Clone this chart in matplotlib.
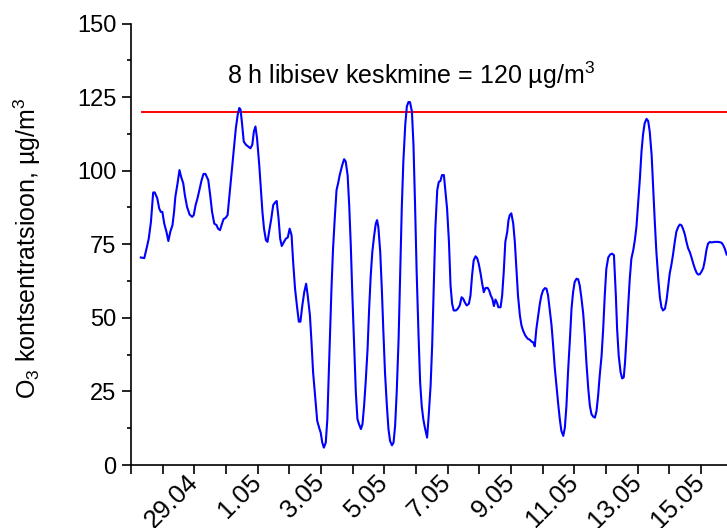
import matplotlib
matplotlib.use("Agg")
import matplotlib.pyplot as plt
from matplotlib.ticker import MultipleLocator
from matplotlib.transforms import ScaledTranslation

plt.rcParams['font.family'] = ['Liberation Sans', 'DejaVu Sans']
plt.rcParams['mathtext.fontset'] = 'custom'
plt.rcParams['mathtext.rm'] = 'Liberation Sans'
plt.rcParams['mathtext.it'] = 'Liberation Sans:italic'

# 8 h moving average O3, x = days since 27.04 00:00
days = [
    0.31, 0.42, 0.49, 0.56, 0.63, 0.70, 0.75, 0.83, 0.89, 0.94, 0.99, 1.05, 1.12, 1.18,
    1.24, 1.31, 1.36, 1.40, 1.47, 1.53, 1.58, 1.65, 1.70, 1.77, 1.85, 1.93, 1.98, 2.04,
    2.10, 2.17, 2.23, 2.29, 2.35, 2.44, 2.50, 2.56, 2.63, 2.70, 2.75, 2.81, 2.86, 2.92,
    2.99, 3.05, 3.11, 3.17, 3.25, 3.31, 3.37, 3.42, 3.46, 3.51, 3.56, 3.63, 3.70, 3.77,
    3.83, 3.88, 3.93, 3.98, 4.05, 4.10, 4.15, 4.20, 4.26, 4.31, 4.36, 4.43, 4.49, 4.55,
    4.60, 4.66, 4.71, 4.76, 4.83, 4.89, 4.95, 5.01, 5.07, 5.12, 5.18, 5.25, 5.30, 5.35,
    5.41, 5.47, 5.53, 5.58, 5.65, 5.70, 5.75, 5.82, 5.88, 5.94, 5.99, 6.04, 6.09, 6.15,
    6.20, 6.27, 6.33, 6.38, 6.44, 6.49, 6.54, 6.59, 6.67, 6.73, 6.78, 6.84, 6.89, 6.94,
    6.99, 7.05, 7.10, 7.15, 7.20, 7.26, 7.31, 7.36, 7.41, 7.47, 7.52, 7.57, 7.62, 7.68,
    7.73, 7.77, 7.81, 7.87, 7.92, 7.97, 8.02, 8.08, 8.13, 8.18, 8.24, 8.29, 8.34, 8.39,
    8.45, 8.50, 8.55, 8.60, 8.66, 8.71, 8.76, 8.81, 8.87, 8.92, 8.97, 9.02, 9.08, 9.13,
    9.18, 9.23, 9.28, 9.35, 9.40, 9.46, 9.51, 9.56, 9.61, 9.67, 9.72, 9.77, 9.82, 9.88,
    9.93, 9.98, 10.04, 10.09, 10.14, 10.19, 10.26, 10.32, 10.38, 10.44, 10.49, 10.54,
    10.60, 10.67, 10.72, 10.77, 10.82, 10.88, 10.93, 10.98, 11.04, 11.09, 11.14, 11.19,
    11.26, 11.31, 11.36, 11.41, 11.46, 11.51, 11.56, 11.60, 11.67, 11.72, 11.77, 11.82,
    11.88, 11.92, 11.96, 12.01, 12.07, 12.12, 12.17, 12.22, 12.28, 12.33, 12.38, 12.44,
    12.49, 12.54, 12.59, 12.65, 12.70, 12.75, 12.80, 12.86, 12.91, 12.96, 13.01, 13.07,
    13.12, 13.17, 13.22, 13.28, 13.33, 13.38, 13.44, 13.49, 13.54, 13.59, 13.65, 13.70,
    13.75, 13.80, 13.86, 13.91, 13.96, 14.01, 14.07, 14.12, 14.17, 14.22, 14.28, 14.33,
    14.38, 14.44, 14.49, 14.54, 14.59, 14.65, 14.70, 14.75, 14.80, 14.86, 14.91, 14.96,
    15.01, 15.07, 15.13, 15.19, 15.25, 15.31, 15.35, 15.40, 15.46, 15.51, 15.56, 15.60,
    15.65, 15.70, 15.75, 15.80, 15.86, 15.91, 15.96, 16.01, 16.07, 16.12, 16.17, 16.22,
    16.28, 16.33, 16.38, 16.44, 16.49, 16.54, 16.59, 16.65, 16.70, 16.75, 16.80, 16.86,
    16.91, 16.96, 17.01, 17.07, 17.12, 17.17, 17.22, 17.28, 17.33, 17.38, 17.43, 17.49,
    17.54, 17.59, 17.65, 17.70, 17.75, 17.80, 17.86, 17.91, 17.96, 18.01, 18.07, 18.12,
    18.17, 18.22, 18.28, 18.33, 18.38, 18.43, 18.49, 18.54, 18.59, 18.65, 18.70, 18.75,
    18.81,
]
o3 = [
    70.5, 70.3, 73.5, 76.9, 82.6, 92.6, 92.6, 90.6, 87.2, 86.0, 86.0, 82.0, 79.2, 76.1,
    79.2, 81.5, 86.0, 91.1, 95.7, 100.2, 98.0, 95.7, 91.7, 87.7, 85.1, 84.3, 84.9, 88.3,
    90.6, 94.0, 96.8, 98.9, 98.9, 96.8, 91.7, 86.0, 82.0, 81.5, 80.3, 79.8, 81.5, 83.5,
    84.0, 84.9, 91.7, 98.5, 107.6, 114.4, 119.0, 121.3, 120.7, 115.6, 109.9, 108.8, 108.2, 107.6,
    108.8, 113.3, 115.0, 111.0, 101.9, 94.0, 86.0, 80.3, 76.4, 75.8, 79.2, 83.7, 88.3, 89.2,
    89.7, 83.7, 76.9, 74.4, 75.8, 76.9, 77.3, 80.3, 78.1, 69.0, 59.9, 53.1, 48.7, 48.7,
    54.2, 58.7, 61.6, 57.6, 50.8, 41.7, 31.5, 22.4, 15.0, 12.7, 11.0, 7.6, 5.9, 7.6,
    15.6, 40.0, 59.9, 73.5, 84.9, 93.4, 95.7, 98.5, 101.9, 103.9, 103.1, 98.5, 88.3, 74.7,
    57.6, 39.4, 24.6, 15.6, 13.9, 12.2, 13.9, 20.1, 28.1, 39.4, 53.1, 64.4, 72.4, 78.1,
    82.0, 83.2, 80.9, 72.4, 59.9, 45.1, 31.5, 20.1, 12.2, 8.2, 6.7, 7.6, 13.3, 24.6,
    42.8, 65.6, 87.2, 103.1, 115.6, 121.8, 123.3, 123.3, 120.1, 108.7, 88.3, 65.6, 44.0, 28.1,
    20.1, 15.6, 12.7, 9.3, 16.7, 26.9, 40.6, 59.9, 80.3, 93.4, 96.2, 96.5, 98.5, 98.5,
    92.8, 87.2, 75.8, 61.0, 54.8, 52.5, 52.5, 53.1, 54.2, 57.0, 56.5, 55.3,
    54.2, 54.8, 57.6, 64.4, 69.5, 70.9, 70.3, 68.4, 65.0, 61.6, 58.7, 60.1,
    60.2, 59.3, 57.6, 56.5, 54.0, 56.2, 55.1, 53.6, 53.6, 57.6, 65.6, 75.8,
    79.2, 83.2, 84.9, 85.5, 82.0, 75.8, 66.7, 57.6, 50.8, 47.4, 45.7, 44.2,
    43.4, 42.8, 42.6, 41.9, 41.7, 40.3, 46.2, 50.8, 54.8, 57.6, 59.3, 60.1,
    59.9, 57.6, 53.1, 47.4, 40.6, 33.2, 26.4, 20.7, 15.6, 11.6, 9.9, 12.7,
    20.1, 31.5, 42.8, 53.1, 58.7, 62.2, 63.3, 63.1, 61.0, 57.0, 51.4, 44.0,
    34.9, 25.8, 20.1, 17.3, 16.5, 16.1, 18.4, 23.5, 30.3, 37.2, 46.2, 57.6,
    66.7, 70.5, 71.5, 71.8, 71.3, 57.6, 46.2, 37.2, 31.5, 29.4, 29.8, 34.9,
    44.0, 54.2, 63.3, 70.1, 73.0, 76.4, 80.9, 88.3, 97.4, 106.5, 112.4, 116.1,
    117.6, 116.9, 113.3, 105.3, 94.0, 82.6, 72.4, 63.3, 57.0, 53.6, 52.5, 53.1,
    55.9, 60.5, 65.0, 68.4, 71.8, 75.8, 79.2, 80.9, 81.7, 81.5, 80.3, 78.3,
    75.8, 73.7, 72.2, 70.5, 68.6, 66.9, 65.3, 64.7, 64.8, 65.6, 66.9, 69.5,
    73.0, 75.2, 75.8, 75.6, 75.7, 75.8, 75.8, 75.8, 75.7, 75.5, 74.7, 73.5,
    71.5,
]
limit = 120  # 8 h target value, ug/m3

tick_days = [2, 4, 6, 8, 10, 12, 14, 16, 18]
tick_labels = ["29.04", "1.05", "3.05", "5.05", "7.05", "9.05", "11.05", "13.05", "15.05"]

fig = plt.figure(figsize=(7.27, 5.28), dpi=100)
ax = fig.add_axes([131 / 727, 1 - 465 / 528, 1 - 131 / 727, 441.5 / 528])

ax.hlines(limit, days[0], days[-1], color="#ff0000", lw=1.4, zorder=2)
ax.plot(days, o3, color="#0000ff", lw=1.5, zorder=3)

ax.set_xlim(0, 18.82)
ax.set_ylim(0, 150)

for side in ("top", "right"):
    ax.spines[side].set_visible(False)
for side in ("left", "bottom"):
    ax.spines[side].set_linewidth(1.2)

label_map = dict(zip(tick_days, tick_labels))
all_days = list(range(0, 19))
ax.set_xticks(all_days)
ax.set_xticklabels([label_map.get(d, "") for d in all_days], rotation=45,
                   ha="right", va="center", rotation_mode="anchor", fontsize=18.5)
# shift the rotated labels a little left, as in the original
shift = ScaledTranslation(-6 / 72, 0, fig.dpi_scale_trans)
for lab in ax.get_xticklabels():
    lab.set_transform(lab.get_transform() + shift)

ax.yaxis.set_major_locator(MultipleLocator(25))
ax.yaxis.set_minor_locator(MultipleLocator(12.5))
ax.tick_params(axis="both", which="major", direction="out", length=6.5, width=1.2)
ax.tick_params(axis="x", pad=3)
ax.tick_params(axis="y", pad=4, labelsize=17)
ax.tick_params(axis="y", which="minor", direction="out", length=3.2, width=1.2)

ax.text(3.03, 129.3, r"8 h libisev keskmine = 120 µg/m$^3$", fontsize=18,
        ha="left", va="baseline")

fig.text(27 / 727, 1 - 248 / 528, r"O$_3$ kontsentratsioon, µg/m$^3$", fontsize=18,
         rotation=90, ha="center", va="center")

fig.savefig("out.png", dpi=100)
